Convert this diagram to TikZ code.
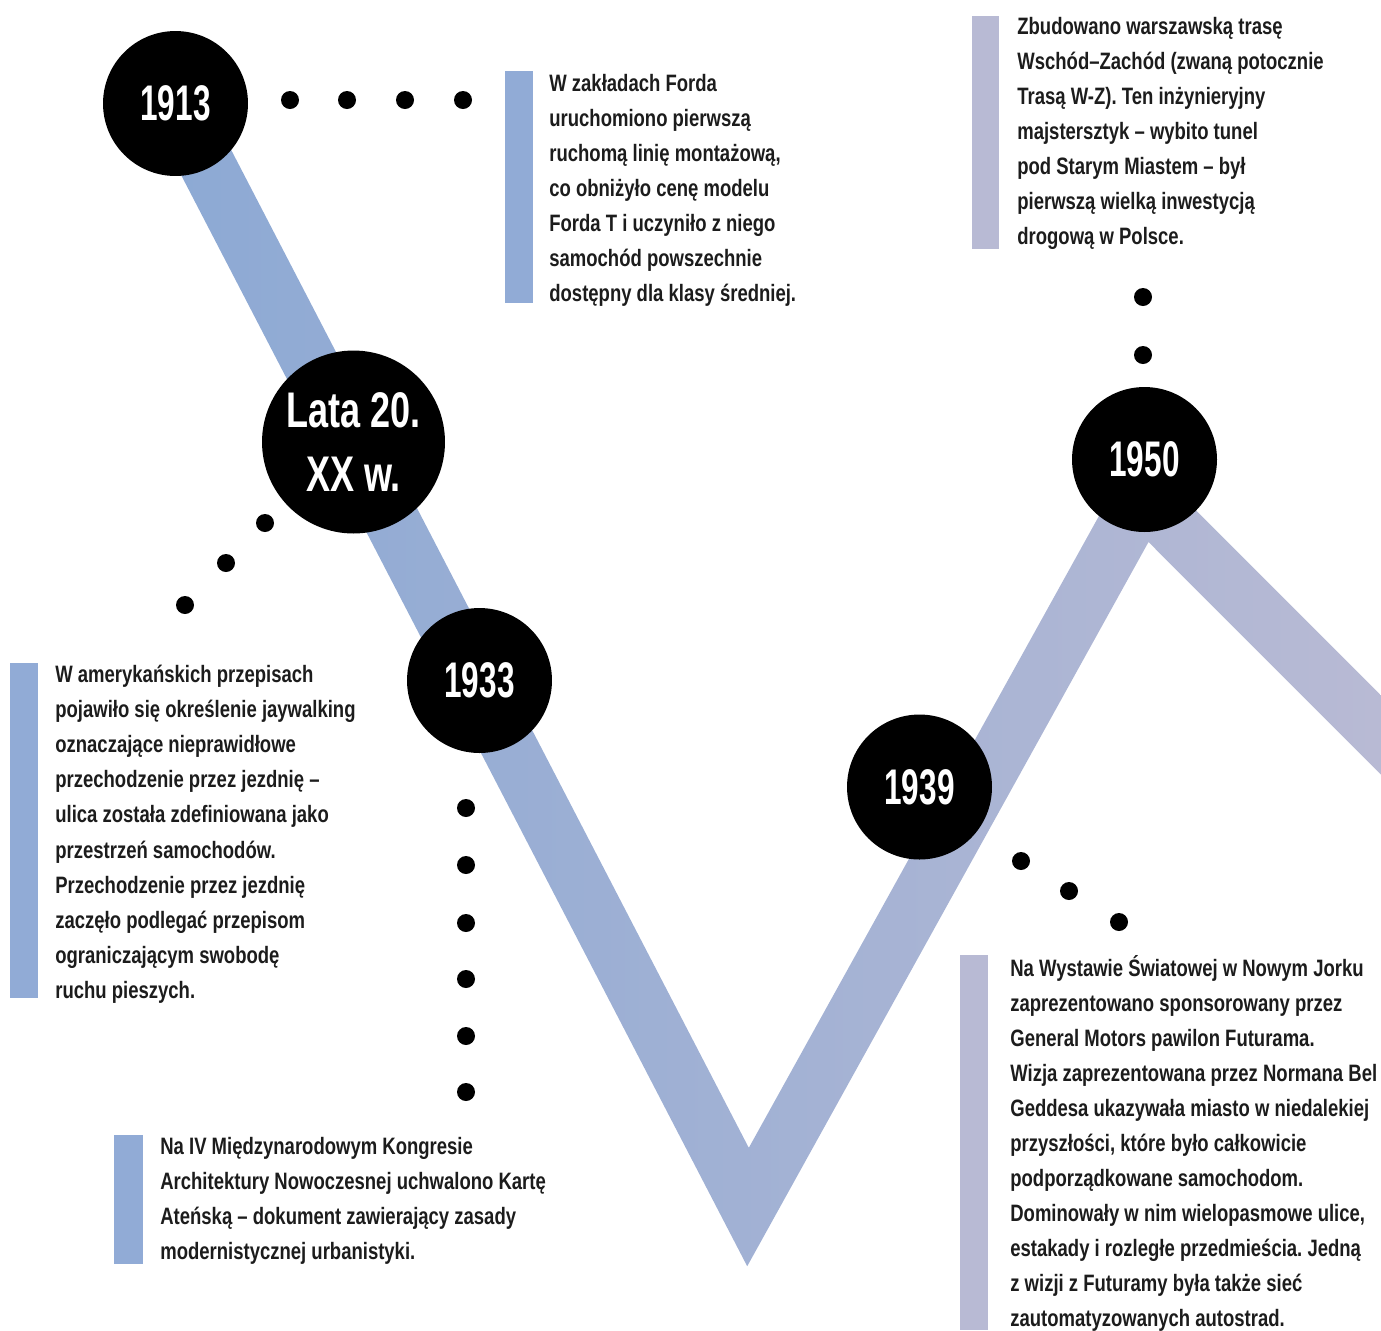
\documentclass[tikz,border=0pt]{standalone}
\usepackage{fontspec}
\usetikzlibrary{positioning}

\newfontfamily\notefont[FakeStretch=0.78]{Liberation Sans}
\newfontfamily\yearfont[FakeStretch=0.63]{Liberation Sans}
\newfontfamily\latafont[FakeStretch=0.72]{Liberation Sans}
\frenchspacing

\definecolor{bandblue}{RGB}{140,169,212}
\definecolor{bandlilac}{RGB}{187,187,212}
\definecolor{barblue}{RGB}{145,171,214}
\definecolor{barlilac}{RGB}{184,186,212}
\definecolor{ink}{RGB}{28,28,28}

\tikzset{
    yearbub/.style={circle, fill=black, text=white, inner sep=0pt, minimum size=2.9cm, align=center,
        font=\yearfont\bfseries\fontsize{28.5pt}{36pt}\selectfont},
    note/.style={anchor=north west, inner sep=0pt, align=left, text=ink,
        font=\notefont\bfseries\fontsize{13.5pt}{19.95pt}\selectfont}
}

\begin{document}
\begin{tikzpicture}[x=0.02cm, y=-0.02cm]
        \useasboundingbox (0,0) rectangle (1381,1330);
        \clip (0,0) rectangle (1381,1330);

        % band
        \shade[left color=bandblue, right color=bandlilac] (200.4,90.6) -- (748.8,1147.8) -- (1135.5,450) -- (1461.8,776.2) -- (1422.2,815.8) -- (1148.5,542) -- (747.2,1266.2) -- (150.7,116.4) -- cycle;

        % years
        \node[yearbub] (y1913) at (175.5,103.5) {1913};
        \node[yearbub, minimum size=3.66cm, font=\latafont\bfseries\fontsize{28.5pt}{35.9pt}\selectfont] (y1920) at (353.5,442) {Lata 20.\\XX w.};
        \node[yearbub] (y1933) at (479.5,680.5) {1933};
        \node[yearbub] (y1939) at (919.5,787) {1939};
        \node[yearbub] (y1950) at (1144.5,459.5) {1950};

        % dots
        \foreach \x in {290,347,405,463} \fill (\x,100) circle[radius=0.18cm];
        \foreach \x/\y in {265/523,226/563,185/605} \fill (\x,\y) circle[radius=0.18cm];
        \foreach \y in {808,865,923,979,1036,1092} \fill (466,\y) circle[radius=0.18cm];
        \foreach \x/\y in {1021/861,1069/891,1119/922} \fill (\x,\y) circle[radius=0.18cm];
        \foreach \y in {297,355} \fill (1143,\y) circle[radius=0.18cm];

        % bars
        \fill[barblue] (505,71) rectangle (533,303);
        \fill[barlilac] (972,16) rectangle (999,249);
        \fill[barblue] (10,663) rectangle (38,998);
        \fill[barblue] (114,1135) rectangle (143,1264);
        \fill[barlilac] (960,955) rectangle (988,1330);

        % notes
        \node[note] (t1913) at (549,74) {W zakładach Forda\\uruchomiono pierwszą\\ruchomą linię montażową,\\co obniżyło cenę modelu\\Forda T i uczyniło z niego\\samochód powszechnie\\dostępny dla klasy średniej.};
        \node[note] (t1950) at (1017,17) {Zbudowano warszawską trasę\\Wschód–Zachód (zwaną potocznie\\Trasą W-Z). Ten inżynieryjny\\majstersztyk – wybito tunel\\pod Starym Miastem – był\\pierwszą wielką inwestycją\\drogową w Polsce.};
        \node[note] (t1920) at (55,665) {W amerykańskich przepisach\\pojawiło się określenie jaywalking\\oznaczające nieprawidłowe\\przechodzenie przez jezdnię –\\ulica została zdefiniowana jako\\przestrzeń samochodów.\\Przechodzenie przez jezdnię\\zaczęło podlegać przepisom\\ograniczającym swobodę\\ruchu pieszych.};
        \node[note] (t1933) at (160,1137) {Na IV Międzynarodowym Kongresie\\Architektury Nowoczesnej uchwalono Kartę\\Ateńską – dokument zawierający zasady\\modernistycznej urbanistyki.};
        \node[note] (t1939) at (1010,955) {Na Wystawie Światowej w Nowym Jorku\\zaprezentowano sponsorowany przez\\General Motors pawilon Futurama.\\Wizja zaprezentowana przez Normana Bel\\Geddesa ukazywała miasto w niedalekiej\\przyszłości, które było całkowicie\\podporządkowane samochodom.\\Dominowały w nim wielopasmowe ulice,\\estakady i rozległe przedmieścia. Jedną\\z wizji z Futuramy była także sieć\\zautomatyzowanych autostrad.};
\end{tikzpicture}
\end{document}
